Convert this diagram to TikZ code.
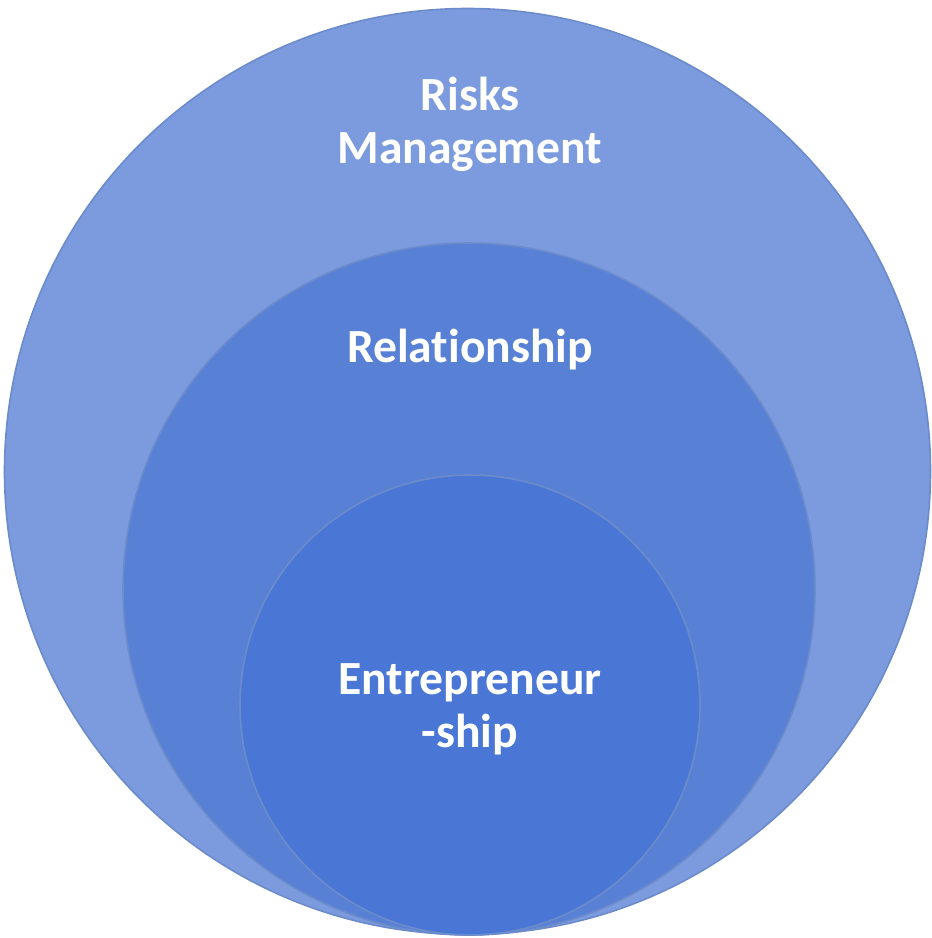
\documentclass[tikz,border=0pt]{standalone}
\usepackage{fontspec}
\setmainfont[Ligatures=NoCommon]{Carlito}
\definecolor{outerc}{HTML}{7B9BDE}
\definecolor{midc}{HTML}{5881D6}
\definecolor{innerc}{HTML}{4A77D5}
\definecolor{rimc}{HTML}{6C8BCB}
\begin{document}
\begin{tikzpicture}[x=0.5pt,y=-0.5pt,
  ring/.style={draw=rimc,line width=0.8pt},
  lbl/.style={text=white,font=\fontsize{23.8}{26.5}\selectfont\bfseries,align=center,inner sep=0pt}]
\useasboundingbox (0,0) rectangle (932,938);
\fill[ring,fill=outerc] (467.5,471.5) circle [radius=463];
\fill[ring,fill=midc] (469,589) circle [radius=346];
\fill[ring,fill=innerc] (470,705) circle [radius=230];
\node[lbl] (risk) at (470,124) {Risks\\Management};
\node[lbl] (rel) at (470,350) {Relationship};
\node[lbl] (ent) at (470,709) {Entrepreneur\\-ship};
\end{tikzpicture}
\end{document}
